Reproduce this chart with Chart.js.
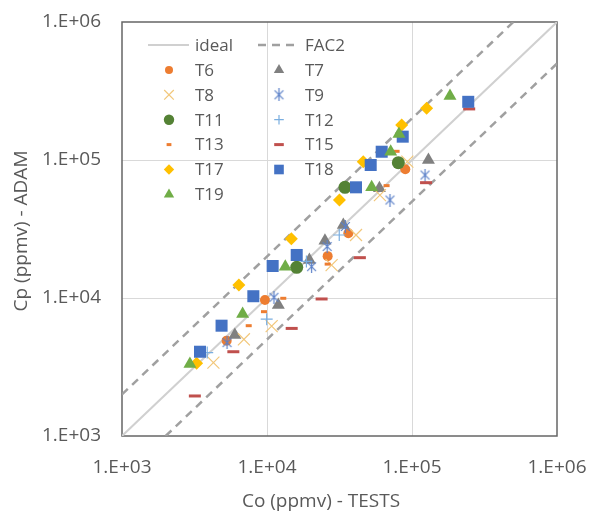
<!DOCTYPE html>
<html lang="en">
<head>
<meta charset="UTF-8">
<title>Cp vs Co</title>
<script src="https://cdn.jsdelivr.net/npm/chart.js"></script>
<style>
  html, body { margin: 0; padding: 0; background: #fff; }
</style>
</head>
<body>
<canvas id="scatter" width="589" height="511"></canvas>
<script>
// axis decades and reference lines
const decadeTicks = [1e3, 1e4, 1e5, 1e6];
const idealLine = [[1e3, 1e3], [1e6, 1e6]];
const fac2Upper = [[1e3, 2e3], [5e5, 1e6]];
const fac2Lower = [[2e3, 1e3], [1e6, 5e5]];

// [Co (tests), Cp (ADAM)] in ppmv
const T6  = [[5270, 4910], [9680, 9680], [26200, 20100], [36400, 29500], [89900, 85700]];
const T7  = [[6000, 5390], [11970, 8900], [19600, 18840], [25100, 26000], [33600, 33800], [59600, 62400], [129800, 100000]];
const T8  = [[4270, 3400], [6930, 5020], [10770, 6260], [27900, 17300], [41100, 28600], [60100, 55700], [92900, 97300]];
const T9  = [[5300, 4750], [11170, 10120], [20300, 16870], [26000, 23600], [34700, 33000], [70500, 51300], [123000, 77800]];
const T11 = [[16030, 16680], [34500, 63400], [80500, 95700]];
const T12 = [[3870, 4020], [9950, 7020], [18700, 18400], [31500, 28600]];
const T13 = [[7480, 6300], [9530, 7960], [12950, 9950], [26200, 17600], [66800, 65200], [78300, 115600]];
const T15 = [[3180, 1950], [5860, 4080], [14800, 6020], [23800, 9840], [43700, 19600], [125000, 68500], [248000, 234500]];
const T17 = [[3270, 3360], [6400, 12400], [14720, 26900], [31600, 51300], [46100, 97300], [84900, 179600], [126200, 237000]];
const T18 = [[3450, 4080], [4860, 6300], [8050, 10300], [10940, 17060], [16030, 20500], [41100, 63400], [51900, 92000], [61800, 114800], [86300, 147600], [244300, 264000]];
const T19 = [[2940, 3330], [6790, 7660], [13370, 16870], [52700, 63400], [71300, 114800], [81300, 154000], [182800, 291000]];

const textColor = '#595959';
const fontFamily = '"Open Sans", "Noto Sans", sans-serif';

// asterisk marker: vertical bar plus an X
function asterisk(color, size) {
  const c = document.createElement('canvas');
  c.width = size; c.height = size;
  const g = c.getContext('2d');
  g.strokeStyle = color;
  g.lineWidth = 1.2;
  const m = size / 2, d = size / 2 - 1;
  g.beginPath();
  g.moveTo(m, 0); g.lineTo(m, size);
  g.moveTo(m - d * 0.8, m - d * 0.8); g.lineTo(m + d * 0.8, m + d * 0.8);
  g.moveTo(m + d * 0.8, m - d * 0.8); g.lineTo(m - d * 0.8, m + d * 0.8);
  g.stroke();
  return c;
}

function toXY(arr) {
  return arr.map(p => ({ x: p[0], y: p[1] }));
}

function lineSet(label, arr, color, width, dash, inLegend) {
  return {
    label, data: toXY(arr), showLine: true, borderColor: color, borderWidth: width,
    borderDash: dash, pointRadius: 0, pointHoverRadius: 0, order: 100, inLegend
  };
}

function markerSet(label, arr, style, fill, stroke, radius, borderWidth, idx) {
  return {
    label, data: toXY(arr), showLine: false, pointStyle: style,
    pointBackgroundColor: fill, pointBorderColor: stroke,
    pointRadius: radius, pointHoverRadius: radius, pointBorderWidth: borderWidth,
    order: 50 - idx, inLegend: true
  };
}

const datasets = [
  lineSet('ideal', idealLine, '#d0d0d0', 2, [], true),
  lineSet('FAC2', fac2Upper, '#a0a0a0', 2.5, [8, 6], true),
  lineSet('FAC2 lower', fac2Lower, '#a0a0a0', 2.5, [8, 6], false),
  markerSet('T6', T6, 'circle', '#ED7D31', '#ED7D31', 5, 0, 0),
  markerSet('T7', T7, 'triangle', '#808080', '#808080', 7.5, 0, 1),
  markerSet('T8', T8, 'crossRot', '#F2C77A', '#F2C77A', 8.5, 1.2, 2),
  markerSet('T9', T9, asterisk('#5B80C8', 13), '#5B80C8', '#5B80C8', 6.5, 0, 3),
  markerSet('T11', T11, 'circle', '#548235', '#548235', 6.5, 0, 4),
  markerSet('T12', T12, 'cross', '#7AAEE0', '#7AAEE0', 6, 1.2, 5),
  markerSet('T13', T13, 'line', '#ED7D31', '#ED7D31', 3, 3, 6),
  markerSet('T15', T15, 'line', '#C0504D', '#C0504D', 6, 3, 7),
  markerSet('T17', T17, 'rectRot', '#FFC000', '#FFC000', 6.5, 0, 8),
  markerSet('T18', T18, 'rect', '#4472C4', '#4472C4', 8.5, 0, 9),
  markerSet('T19', T19, 'triangle', '#70AD47', '#70AD47', 7.5, 0, 10)
];

// plot frame, axis titles and the two-column legend inside the plot
const decorations = {
  id: 'decorations',
  beforeDatasetsDraw(chart) {
    const { ctx, chartArea: a } = chart;
    ctx.save();
    ctx.strokeStyle = '#666666';
    ctx.lineWidth = 1.5;
    ctx.strokeRect(a.left, a.top, a.right - a.left, a.bottom - a.top);
    ctx.restore();
  },
  afterDraw(chart) {
    const { ctx } = chart;
    ctx.save();
    ctx.fillStyle = textColor;
    ctx.font = '19px ' + fontFamily;
    ctx.textAlign = 'center';
    ctx.textBaseline = 'middle';
    ctx.fillText('Co (ppmv) - TESTS', 321, 502);
    ctx.translate(22, 231);
    ctx.rotate(-Math.PI / 2);
    ctx.fillText('Cp (ppmv) - ADAM', 0, 0);
    ctx.restore();

    const cols = [{ mark: 169, text: 195 }, { mark: 279, text: 305 }];
    const rowY = 45, rowStep = 24.9;
    const items = chart.data.datasets.filter(d => d.inLegend);
    ctx.save();
    ctx.font = '17px ' + fontFamily;
    ctx.textBaseline = 'middle';
    ctx.textAlign = 'left';
    items.forEach((d, i) => {
      const col = cols[i % 2];
      const y = rowY + Math.floor(i / 2) * rowStep;
      if (d.showLine) {
        ctx.save();
        ctx.strokeStyle = d.borderColor;
        ctx.lineWidth = d.borderWidth;
        ctx.setLineDash(d.borderDash);
        ctx.beginPath();
        ctx.moveTo(col.mark - 21, y);
        ctx.lineTo(col.mark + 20, y);
        ctx.stroke();
        ctx.restore();
      } else {
        ctx.save();
        ctx.fillStyle = d.pointBackgroundColor;
        ctx.strokeStyle = d.pointBorderColor;
        ctx.lineWidth = d.pointBorderWidth;
        Chart.helpers.drawPoint(ctx, {
          pointStyle: d.pointStyle, rotation: 0,
          radius: d.pointRadius * 0.8, borderWidth: d.pointBorderWidth
        }, col.mark, y);
        ctx.restore();
      }
      ctx.fillStyle = textColor;
      ctx.fillText(d.label, col.text, y + 1);
    });
    ctx.restore();
  }
};

function decadeLabel(value) {
  return '1.E+' + String(Math.round(Math.log10(value))).padStart(2, '0');
}

function gridColor(ctx) {
  const v = ctx.tick && ctx.tick.value;
  return (v === 1e4 || v === 1e5) ? '#d9d9d9' : 'rgba(0,0,0,0)';
}

Chart.defaults.font.family = fontFamily;
Chart.defaults.font.size = 19;
Chart.defaults.color = textColor;

new Chart(document.getElementById('scatter').getContext('2d'), {
  type: 'scatter',
  data: { datasets },
  options: {
    responsive: false,
    animation: false,
    layout: { padding: { left: 0, top: 22, right: 32, bottom: 0 } },
    plugins: { legend: { display: false }, tooltip: { enabled: false } },
    scales: {
      x: {
        type: 'logarithmic', min: 1e3, max: 1e6,
        afterBuildTicks: s => { s.ticks = decadeTicks.map(v => ({ value: v })); },
        afterFit: s => { s.height = 75; s.paddingLeft = 0; s.paddingRight = 0; },
        ticks: { callback: decadeLabel, padding: 20, maxRotation: 0, autoSkip: false },
        grid: { color: gridColor, drawTicks: false, lineWidth: 1 },
        border: { display: false }
      },
      y: {
        type: 'logarithmic', min: 1e3, max: 1e6,
        afterBuildTicks: s => { s.ticks = decadeTicks.map(v => ({ value: v })); },
        afterFit: s => { s.width = 122; s.paddingTop = 0; s.paddingBottom = 0; },
        ticks: { callback: decadeLabel, padding: 21, autoSkip: false },
        grid: { color: gridColor, drawTicks: false, lineWidth: 1 },
        border: { display: false }
      }
    }
  },
  plugins: [decorations]
});
</script>
</body>
</html>
